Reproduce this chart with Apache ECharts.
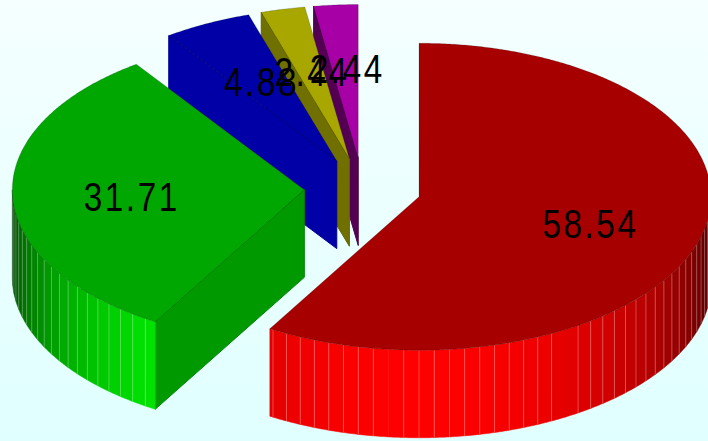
<!DOCTYPE html>
<html>
<head>
<meta charset="utf-8">
<style>
html,body{margin:0;padding:0;background:#e8ffff}
#chart{width:708px;height:441px}
#chart text{letter-spacing:3.2px}
</style>
<script src="https://cdn.jsdelivr.net/npm/echarts@6/dist/echarts.min.js"></script>
</head>
<body>
<div id="chart"></div>
<script>
// Exploded 3D pie, shares in percent, clockwise from twelve o'clock.
var values = [58.54, 31.71, 4.88, 2.44, 2.44];
var labels = ['58.54', '31.71', '4.88', '2.44', '2.44'];
var hues = [[1, 0, 0], [0, 1, 0], [0, 0, 1], [1, 1, 0], [1, 0, 1]];

// Projection of the pie onto the page.
var centreX = 362.7, centreY = 188.6;
var radiusX = 292, radiusY = 153.5, depth = 87.5, explode = 0.2;
var topLevel = 167, ambient = 59, diffuse = 196;
var facetStep = 3, seamlessAngles = [150, 186];
var labelRadius = 0.6, labelShiftX = 2.5, labelShiftY = 3;
var rad = Math.PI / 180;

var total = values.reduce(function (a, b) { return a + b; }, 0);
var slices = [], running = 0;
values.forEach(function (v) {
  var a0 = running / total * 360;
  running += v;
  var a1 = running / total * 360, mid = (a0 + a1) / 2;
  slices.push({
    a0: a0, a1: a1, mid: mid,
    x: centreX + explode * radiusX * Math.sin(mid * rad),
    y: centreY - explode * radiusY * Math.cos(mid * rad)
  });
});

function rim(s, a, drop) {
  return [s.x + radiusX * Math.sin(a * rad), s.y - radiusY * Math.cos(a * rad) + (drop || 0)];
}
function tint(hue, level) {
  return 'rgb(' + hue.map(function (c) { return Math.round(c * level); }).join(',') + ')';
}
// Lambert-style shade for a vertical face whose outward normal points at angle a.
function lit(a) {
  return Math.min(255, ambient + diffuse * Math.abs(Math.cos((a - 180) * rad)));
}
function arc(s, from, to, drop) {
  var pts = [], n = Math.max(1, Math.ceil((to - from) / 0.5));
  for (var i = 0; i <= n; i++) pts.push(rim(s, from + (to - from) * i / n, drop));
  return pts;
}

function drawSlice(params, api) {
  var i = api.value(0), s = slices[i], hue = hues[i], kids = [];
  var apex = [s.x, s.y], apexLow = [s.x, s.y + depth];

  // Cut face at the start of the slice, when it faces the viewer.
  var normal = s.a0 - 90;
  if (Math.cos(normal * rad) < 0) {
    var p = rim(s, s.a0);
    kids.push({
      type: 'polygon',
      shape: { points: [apex, p, [p[0], p[1] + depth], apexLow] },
      style: { fill: tint(hue, lit(normal) - 6), stroke: tint(hue, lit(normal) * 0.85), lineWidth: 1 }
    });
  }

  // Curved outer wall, one flat facet per step, front half only.
  var from = Math.max(s.a0, 90), to = Math.min(s.a1, 270);
  if (from < to) {
    var a = from;
    while (a < to) {
      var next = Math.min(to, (Math.floor(a / facetStep + 1e-6) + 1) * facetStep);
      var lo = arc(s, a, next, depth).reverse();
      var level = lit((a + next) / 2);
      kids.push({
        type: 'polygon',
        shape: { points: arc(s, a, next, 0).concat(lo) },
        style: { fill: tint(hue, level), stroke: tint(hue, level), lineWidth: 0.5 }
      });
      a = next;
    }
    for (var g = Math.ceil(from / facetStep) * facetStep; g < to; g += facetStep) {
      if (seamlessAngles.indexOf(g) >= 0 || g === from) continue;
      var t = rim(s, g), b = rim(s, g, depth);
      kids.push({
        type: 'line',
        shape: { x1: t[0], y1: t[1], x2: b[0], y2: b[1] },
        style: { stroke: 'rgba(255,255,255,0.28)', lineWidth: 1 }
      });
    }
  }

  // Flat top of the slice.
  kids.push({
    type: 'polygon',
    shape: { points: [apex].concat(arc(s, s.a0, s.a1, 0)) },
    style: { fill: tint(hue, topLevel), stroke: 'rgba(0,0,0,0.16)', lineWidth: 1 }
  });
  return { type: 'group', children: kids };
}

function drawLabel(params, api) {
  var i = api.value(0), s = slices[i];
  var x = s.x + labelRadius * radiusX * Math.sin(s.mid * rad) + labelShiftX;
  var y = s.y - labelRadius * radiusY * Math.cos(s.mid * rad) + labelShiftY;
  return {
    type: 'text',
    x: x, y: y, scaleX: 0.81,
    style: {
      text: labels[i], fill: '#000', align: 'center', verticalAlign: 'middle',
      fontSize: 41, fontFamily: 'Liberation Sans'
    }
  };
}

// Back slices first so the nearer ones cover them.
var paintOrder = [4, 3, 2, 1, 0];
var chart = echarts.init(document.getElementById('chart'), null, { renderer: 'svg' });
chart.setOption({
  animation: false,
  backgroundColor: new echarts.graphic.LinearGradient(0, 0, 0, 1, [
    { offset: 0, color: '#f5ffff' },
    { offset: 1, color: '#e0ffff' }
  ]),
  series: [
    { type: 'custom', coordinateSystem: 'none', silent: true, clip: false, z: 2,
      renderItem: drawSlice, data: paintOrder.map(function (i) { return [i]; }) },
    { type: 'custom', coordinateSystem: 'none', silent: true, clip: false, z: 3,
      renderItem: drawLabel, data: paintOrder.map(function (i) { return [i]; }) }
  ]
});
</script>
</body>
</html>
